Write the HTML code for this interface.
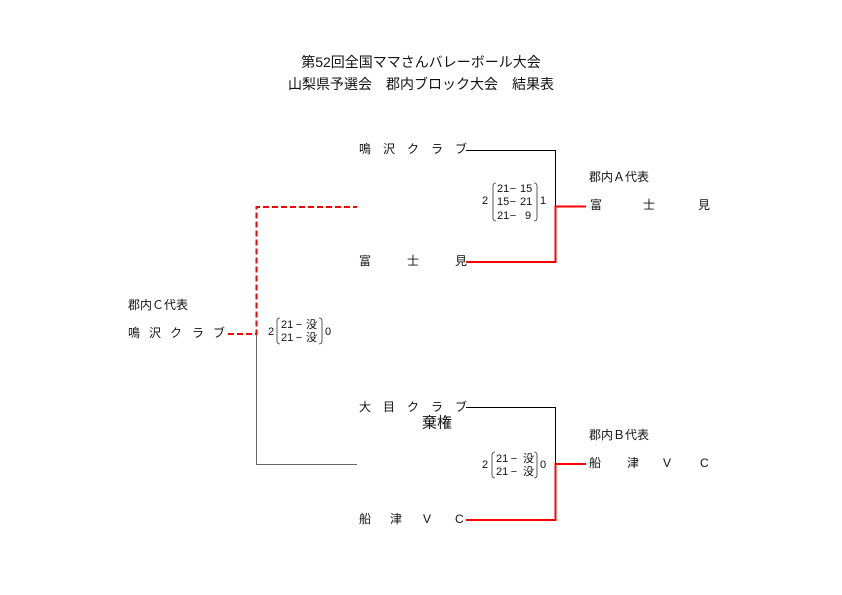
<!DOCTYPE html>
<html><head><meta charset="utf-8"><style>
html,body{margin:0;padding:0;background:#fff;}
svg{display:block;}
text{font-family:"Liberation Sans","Noto Sans CJK JP",sans-serif;fill:#111;dominant-baseline:central;}
</style></head><body>
<svg width="842" height="595" viewBox="0 0 842 595" xmlns="http://www.w3.org/2000/svg">
<!-- title -->
<text x="421" y="62" font-size="14" text-anchor="middle">第52回全国ママさんバレーボール大会</text>
<text x="421" y="84" font-size="14" text-anchor="middle">山梨県予選会　郡内ブロック大会　結果表</text>

<!-- lines top bracket -->
<path d="M466,150.5 H555.5 V206" fill="none" stroke="#000" stroke-width="1"/>
<path d="M466,262 H555.5 V206.5 H586" fill="none" stroke="#f00" stroke-width="2"/>
<!-- bottom bracket -->
<path d="M466,407.5 H555.5 V464" fill="none" stroke="#000" stroke-width="1"/>
<path d="M466,520 H555.5 V464 H586" fill="none" stroke="#f00" stroke-width="2"/>
<!-- left -->
<path d="M256.5,334 V464.5 H357" fill="none" stroke="#666" stroke-width="1"/>
<path d="M228,334 H256.5 V207 H357" fill="none" stroke="#f00" stroke-width="2" stroke-dasharray="6,3"/>

<g font-size="12">
<!-- top names -->
<text x="359" y="149">鳴</text><text x="383" y="149">沢</text><text x="407" y="149">ク</text><text x="431" y="149">ラ</text><text x="455" y="149">ブ</text>
<text x="359" y="261">富</text><text x="407" y="261">士</text><text x="455" y="261">見</text>
<!-- bottom names -->
<text x="359" y="407">大</text><text x="383" y="407">目</text><text x="407" y="407">ク</text><text x="431" y="407">ラ</text><text x="455" y="407">ブ</text>
<text x="359" y="519">船</text><text x="390" y="519">津</text><text x="423" y="519">V</text><text x="455" y="519">C</text>
<!-- right winners -->
<text x="589" y="177">郡内Ａ代表</text>
<text x="590" y="205">富</text><text x="643" y="205">士</text><text x="698" y="205">見</text>
<text x="589" y="435">郡内Ｂ代表</text>
<text x="589" y="463">船</text><text x="627" y="463">津</text><text x="663" y="463">V</text><text x="700" y="463">C</text>
<!-- left -->
<text x="128" y="305">郡内Ｃ代表</text>
<text x="128" y="333">鳴</text><text x="149" y="333">沢</text><text x="170" y="333">ク</text><text x="192" y="333">ラ</text><text x="213" y="333">ブ</text>
</g>
<text x="422" y="423" font-size="15">棄権</text>

<!-- scores -->
<g font-size="11">
<text x="482" y="201">2</text>
<text x="497" y="189">21</text><text x="513" y="189" text-anchor="middle">−</text><text x="520" y="189">15</text>
<text x="497" y="202">15</text><text x="513" y="202" text-anchor="middle">−</text><text x="520" y="202">21</text>
<text x="497" y="216">21</text><text x="513" y="216" text-anchor="middle">−</text><text x="525" y="216">9</text>
<text x="540" y="201">1</text>

<text x="482" y="465">2</text>
<text x="496" y="459">21</text><text x="514" y="459" text-anchor="middle">−</text><text x="523" y="459">没</text>
<text x="496" y="472">21</text><text x="514" y="472" text-anchor="middle">−</text><text x="523" y="472">没</text>
<text x="540" y="465">0</text>

<text x="268" y="332">2</text>
<text x="281" y="325">21</text><text x="299" y="325" text-anchor="middle">−</text><text x="306" y="325">没</text>
<text x="281" y="338">21</text><text x="299" y="338" text-anchor="middle">−</text><text x="306" y="338">没</text>
<text x="325" y="332">0</text>
</g>
<g fill="none" stroke="#333" stroke-width="0.8">
<path d="M496,183 Q493,183 493,186 V218 Q493,221 496,221"/>
<path d="M534,183 Q537,183 537,186 V218 Q537,221 534,221"/>
<path d="M495,452 Q492,452 492,455 V475 Q492,478 495,478"/>
<path d="M534,452 Q537,452 537,455 V475 Q537,478 534,478"/>
<path d="M280,318 Q277,318 277,321 V341 Q277,344 280,344"/>
<path d="M319,318 Q322,318 322,321 V341 Q322,344 319,344"/>
</g>
</svg>
</body></html>
